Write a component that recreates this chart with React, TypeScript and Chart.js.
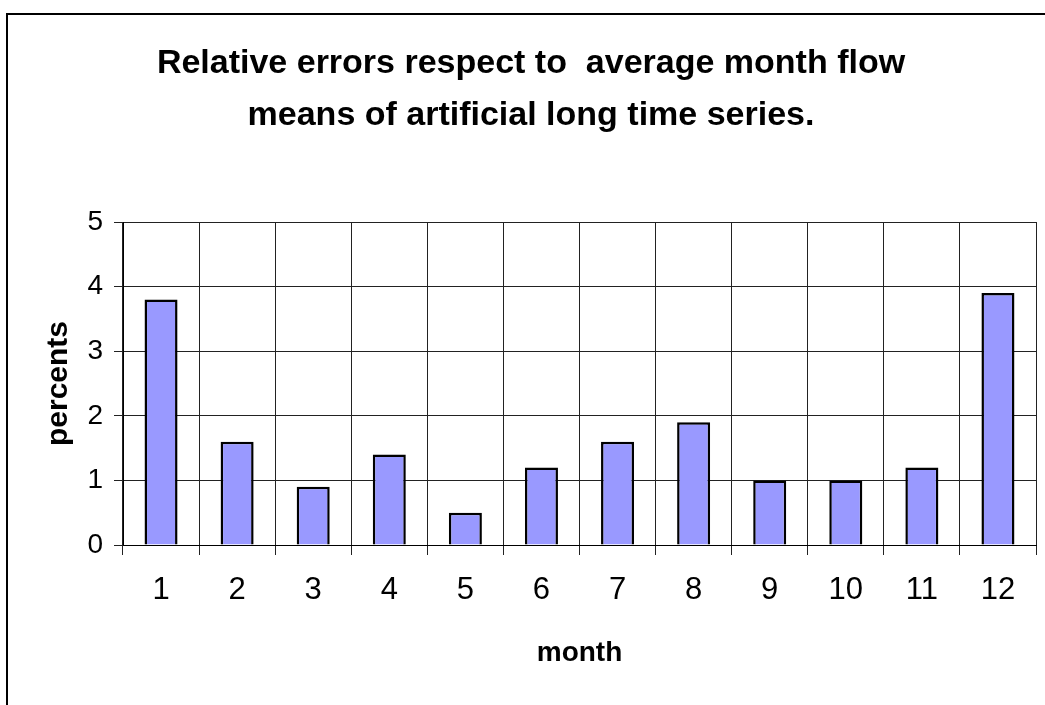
import React, { useEffect, useRef } from "react";
import { Chart, registerables } from "chart.js";

Chart.register(...registerables);

const months = ["1", "2", "3", "4", "5", "6", "7", "8", "9", "10", "11", "12"];
const relativeErrors = [3.8, 1.6, 0.9, 1.4, 0.5, 1.2, 1.6, 1.9, 1.0, 1.0, 1.2, 3.9];
const titleLines = [
  "Relative errors respect to  average month flow",
  "means of artificial long time series.",
];
const xTitle = "month";
const yTitle = "percents";

const FONT = "'Liberation Sans', Arial, Helvetica, sans-serif";

export default function App() {
  const ref = useRef<HTMLCanvasElement | null>(null);

  useEffect(() => {
    const canvas = ref.current;
    if (!canvas) return;
    const chart = new Chart(canvas, {
      type: "bar",
      data: {
        labels: months,
        datasets: [
          {
            data: relativeErrors,
            backgroundColor: "#9999FF",
            borderColor: "#000000",
            borderWidth: 2.5,
            categoryPercentage: 1,
            barPercentage: 0.434,
          },
        ],
      },
      options: {
        responsive: false,
        animation: false,
        devicePixelRatio: 1,
        layout: { padding: { left: 26, right: 9, top: 0, bottom: 0 } },
        plugins: {
          legend: { display: false },
          tooltip: { enabled: false },
          title: {
            display: true,
            text: titleLines,
            color: "#000000",
            font: { family: FONT, size: 34, weight: "bold", lineHeight: 1.515 },
            padding: { top: 38, bottom: 81 },
          },
        },
        scales: {
          x: {
            offset: true,
            grid: {
              offset: true,
              color: "#222222",
              lineWidth: 1,
              drawTicks: true,
              tickLength: 10,
              tickColor: "#222222",
            },
            border: { display: true, color: "#000000", width: 1 },
            ticks: {
              color: "#000000",
              font: { family: FONT, size: 31, lineHeight: 1.2 },
              padding: 17,
              maxRotation: 0,
              autoSkip: false,
            },
            title: {
              display: true,
              text: xTitle,
              color: "#000000",
              font: { family: FONT, size: 28, weight: "bold", lineHeight: 1.2 },
              padding: { top: 0, bottom: 35 },
            },
            afterFit(scale: any) {
              scale.height = 160;
            },
          },
          y: {
            min: 0,
            max: 5,
            grid: {
              color: "#222222",
              lineWidth: 1,
              drawTicks: true,
              tickLength: 9,
              tickColor: "#222222",
            },
            border: { display: true, color: "#000000", width: 1 },
            ticks: {
              stepSize: 1,
              color: "#000000",
              font: { family: FONT, size: 28, lineHeight: 1.2 },
              padding: 11,
            },
            title: {
              display: true,
              text: yTitle,
              color: "#000000",
              font: { family: FONT, size: 30, weight: "bold", lineHeight: 1.2 },
              padding: { top: 15, bottom: 0 },
            },
            afterFit(scale: any) {
              scale.width = 97;
            },
          },
        },
      },
    });
    return () => chart.destroy();
  }, []);

  return (
    <div
      style={{
        position: "fixed",
        left: 0,
        top: 0,
        width: 1045,
        height: 705,
        overflow: "hidden",
        background: "#ffffff",
      }}
    >
      <div
        style={{
          position: "absolute",
          left: 6,
          top: 13,
          width: 2000,
          height: 2000,
          border: "2px solid #000000",
          boxSizing: "border-box",
        }}
      />
      <canvas
        ref={ref}
        width={1045}
        height={705}
        style={{ position: "absolute", left: 0, top: 0, width: 1045, height: 705 }}
      />
    </div>
  );
}
